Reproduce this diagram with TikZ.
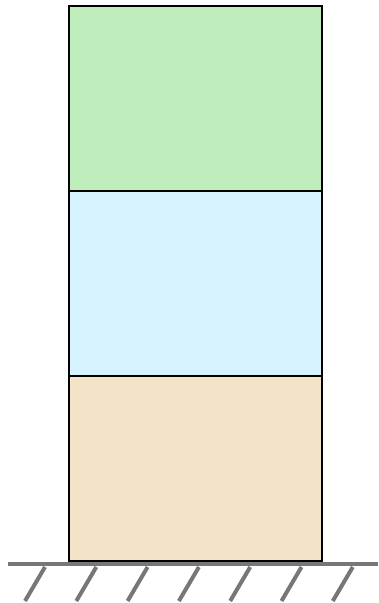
\documentclass[tikz,border=0pt]{standalone}
\usepackage{tikz}
\usetikzlibrary{positioning}

\definecolor{layergreen}{HTML}{C0EDBC}
\definecolor{layerblue}{HTML}{D6F2FF}
\definecolor{layertan}{HTML}{F3E4C7}
\definecolor{groundgray}{HTML}{777777}

\begin{document}
\begin{tikzpicture}[
    x=1pt, y=1pt,
    layer/.style={rectangle, draw=black, line width=2.2pt, minimum width=253pt, minimum height=185pt, inner sep=0pt, outer sep=0pt},
    ground/.style={draw=groundgray, line width=4pt},
    node distance=0pt
]
\useasboundingbox (0,0) rectangle (378,603);

\node[layer, fill=layertan, anchor=south west] (bottom) at (69,42) {};
\node[layer, fill=layerblue, above=of bottom] (middle) {};
\node[layer, fill=layergreen, above=of middle] (top) {};

% ground
\coordinate (gl) at (8,39);
\coordinate (gr) at (378,39);
\draw[ground] (gl) -- (gr);
\foreach \i in {0,...,6}
  \draw[ground] (45+51.3*\i,36) -- (25+51.3*\i,2);

\end{tikzpicture}
\end{document}
